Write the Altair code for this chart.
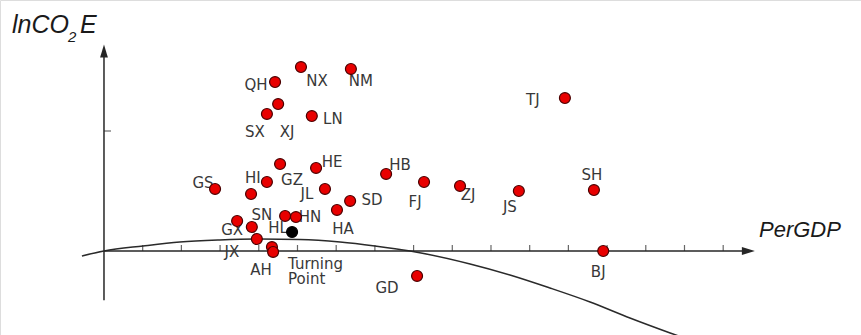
import altair as alt
import pandas as pd

# Provinces: per-capita GDP (x) and ln CO2 emissions (y); blank name = unlabelled point
provinces = ["QH", "NX", "NM", "TJ", "XJ", "SX", "LN", "GZ", "HE", "HI", "", "JL", "GS", "HB",
             "SD", "HA", "FJ", "ZJ", "JS", "SH", "BJ", "GD", "SN", "GX", "HL", "HN", "JX", "AH", ""]
per_gdp = [4.42, 5.09, 6.38, 11.91, 4.50, 4.21, 5.37, 4.55, 5.48, 4.21, 3.80, 5.71, 2.87, 7.29,
           6.36, 6.02, 8.27, 9.20, 10.72, 12.66, 12.90, 8.09, 3.82, 3.44, 4.68, 4.96, 3.95, 4.34, 4.37]
ln_co2e = [1.408, 1.533, 1.517, 1.275, 1.225, 1.142, 1.125, 0.725, 0.692, 0.575, 0.475, 0.517, 0.517, 0.642,
           0.417, 0.342, 0.575, 0.542, 0.500, 0.508, 0.000, -0.208, 0.200, 0.250, 0.292, 0.283, 0.100, 0.033, -0.008]

# Turning point of the fitted curve
turning_gdp = [4.86]
turning_co2 = [0.158]
turning_text = ["Turning\nPoint"]

# Fitted curve, sampled along its path
curve_gdp = [-0.57, 0.0, 1.01, 1.96, 2.99, 4.03, 5.06, 6.10, 7.00, 7.91, 9.46, 10.49, 11.52,
             12.56, 13.59, 14.63, 15.14]
curve_co2 = [-0.042, 0.0, 0.042, 0.075, 0.092, 0.100, 0.096, 0.075, 0.042, 0.0, -0.108, -0.200,
             -0.308, -0.425, -0.558, -0.683, -0.742]

x_ticks = list(range(1, 17))
y_ticks = [1]

# Label placement around each point (pixels, right / down)
label_offset = {
    "QH": (-19, 3), "NX": (16, 14), "NM": (10, 12), "TJ": (-32, 2), "XJ": (9, 28),
    "SX": (-12, 18), "LN": (21, 3), "GZ": (12, 16), "HE": (16, -6), "HI": (-14, -4),
    "JL": (-18, 5), "GS": (-12, -6), "HB": (14, -9), "SD": (22, -1), "HA": (6, 19),
    "FJ": (-9, 20), "ZJ": (8, 9), "JS": (-9, 16), "SH": (-2, -15), "BJ": (-5, 21),
    "GD": (-30, 12), "SN": (10, -12), "GX": (-5, 9), "HL": (-7, 12), "HN": (14, 0),
    "JX": (-25, 13), "AH": (-11, 23),
}

W, H = 861, 335
X_DOMAIN = [-2.687, 19.561]
Y_DOMAIN = [-0.70, 2.0917]
PX_X = W / (X_DOMAIN[1] - X_DOMAIN[0])   # pixels per GDP unit
PX_Y = H / (Y_DOMAIN[1] - Y_DOMAIN[0])   # pixels per ln CO2 unit

pts = pd.DataFrame({"name": provinces, "gdp": per_gdp, "co2": ln_co2e})
pts["ldx"] = [label_offset.get(n, (0, 0))[0] for n in provinces]
pts["ldy"] = [label_offset.get(n, (0, 0))[1] for n in provinces]

curve = pd.DataFrame({"gdp": curve_gdp, "co2": curve_co2})
turn = pd.DataFrame({"gdp": turning_gdp, "co2": turning_co2, "t": turning_text})
xt = pd.DataFrame({"gdp": x_ticks, "co2": [0] * len(x_ticks)})
yt = pd.DataFrame({"gdp": [0] * len(y_ticks), "co2": y_ticks})

X = alt.Scale(domain=X_DOMAIN, nice=False, zero=False)
Y = alt.Scale(domain=Y_DOMAIN, nice=False, zero=False)
AX = "#262626"


def xy(df):
    return alt.Chart(df).encode(
        x=alt.X("gdp:Q", scale=X, axis=None),
        y=alt.Y("co2:Q", scale=Y, axis=None),
    )


# axes drawn as arrows through the origin
x_axis = alt.Chart(pd.DataFrame({"gdp": [0.0], "gdp2": [16.5], "co2": [0.0]})).mark_rule(
    color=AX, strokeWidth=1.5
).encode(x=alt.X("gdp:Q", scale=X, axis=None), x2="gdp2:Q", y=alt.Y("co2:Q", scale=Y, axis=None))

y_axis = alt.Chart(pd.DataFrame({"gdp": [0.0], "co2": [-0.41], "co22": [1.62]})).mark_rule(
    color=AX, strokeWidth=1.5
).encode(x=alt.X("gdp:Q", scale=X, axis=None), y=alt.Y("co2:Q", scale=Y, axis=None), y2="co22:Q")

x_arrow = xy(pd.DataFrame({"gdp": [16.65], "co2": [0.0]})).mark_point(
    shape="M1,0L-1,-0.6L-1,0.6Z", size=169, filled=True, color=AX, opacity=1
)
y_arrow = xy(pd.DataFrame({"gdp": [0.0], "co2": [1.667]})).mark_point(
    shape="M0,-1L-0.6,1L0.6,1Z", size=169, filled=True, color=AX, opacity=1
)

x_tick_marks = xy(xt).mark_tick(orient="vertical", size=6, thickness=1.2, color=AX, yOffset=-3)
y_tick_marks = xy(yt).mark_tick(orient="horizontal", size=7, thickness=1.2, color=AX, xOffset=3.5)

curve_line = xy(curve).mark_line(
    color="#2a2a2a", strokeWidth=1.5, interpolate="monotone", clip=True
)

labels = alt.Chart(pts).transform_calculate(
    lx=f"datum.gdp + datum.ldx / {PX_X}",
    ly=f"datum.co2 - datum.ldy / {PX_Y}",
).mark_text(
    font="DejaVu Sans", fontSize=15, color="#383838", align="center", baseline="middle"
).encode(
    x=alt.X("lx:Q", scale=X, axis=None),
    y=alt.Y("ly:Q", scale=Y, axis=None),
    text="name:N",
)

dots = xy(pts).mark_circle(
    size=120, color="#e80000", opacity=1, stroke="#4a0000", strokeWidth=1.2
)

turn_dot = xy(turn).mark_circle(
    size=120, color="#000000", opacity=1, stroke="#000000", strokeWidth=1.2
)
turn_label = xy(turn).mark_text(
    font="DejaVu Sans", fontSize=15, color="#383838", align="left", baseline="top",
    dx=-4, dy=25, lineBreak="\n", lineHeight=15
).encode(text="t:N")


def title_text(txt, px, py, size, align="left"):
    return alt.Chart(pd.DataFrame({"t": [txt]})).mark_text(
        font="Liberation Sans", fontStyle="italic", fontSize=size, color="#1a1a1a",
        align=align, baseline="alphabetic"
    ).encode(x=alt.value(px), y=alt.value(py), text="t:N")


y_title = (title_text("lnCO", 12, 33, 25)
           + title_text("2", 68, 42, 15)
           + title_text("E", 80, 33, 25))
x_title = title_text("PerGDP", 759, 237, 22)

chart = alt.layer(
    curve_line, x_axis, y_axis, x_arrow, y_arrow, x_tick_marks, y_tick_marks,
    labels, dots, turn_label, turn_dot, y_title, x_title,
).properties(
    width=W, height=H, autosize=alt.AutoSizeParams(type="none"), padding=0,
).configure_view(stroke=None).configure(background="white")

chart.save("out.html", embed_options={"renderer": "svg", "actions": False})
